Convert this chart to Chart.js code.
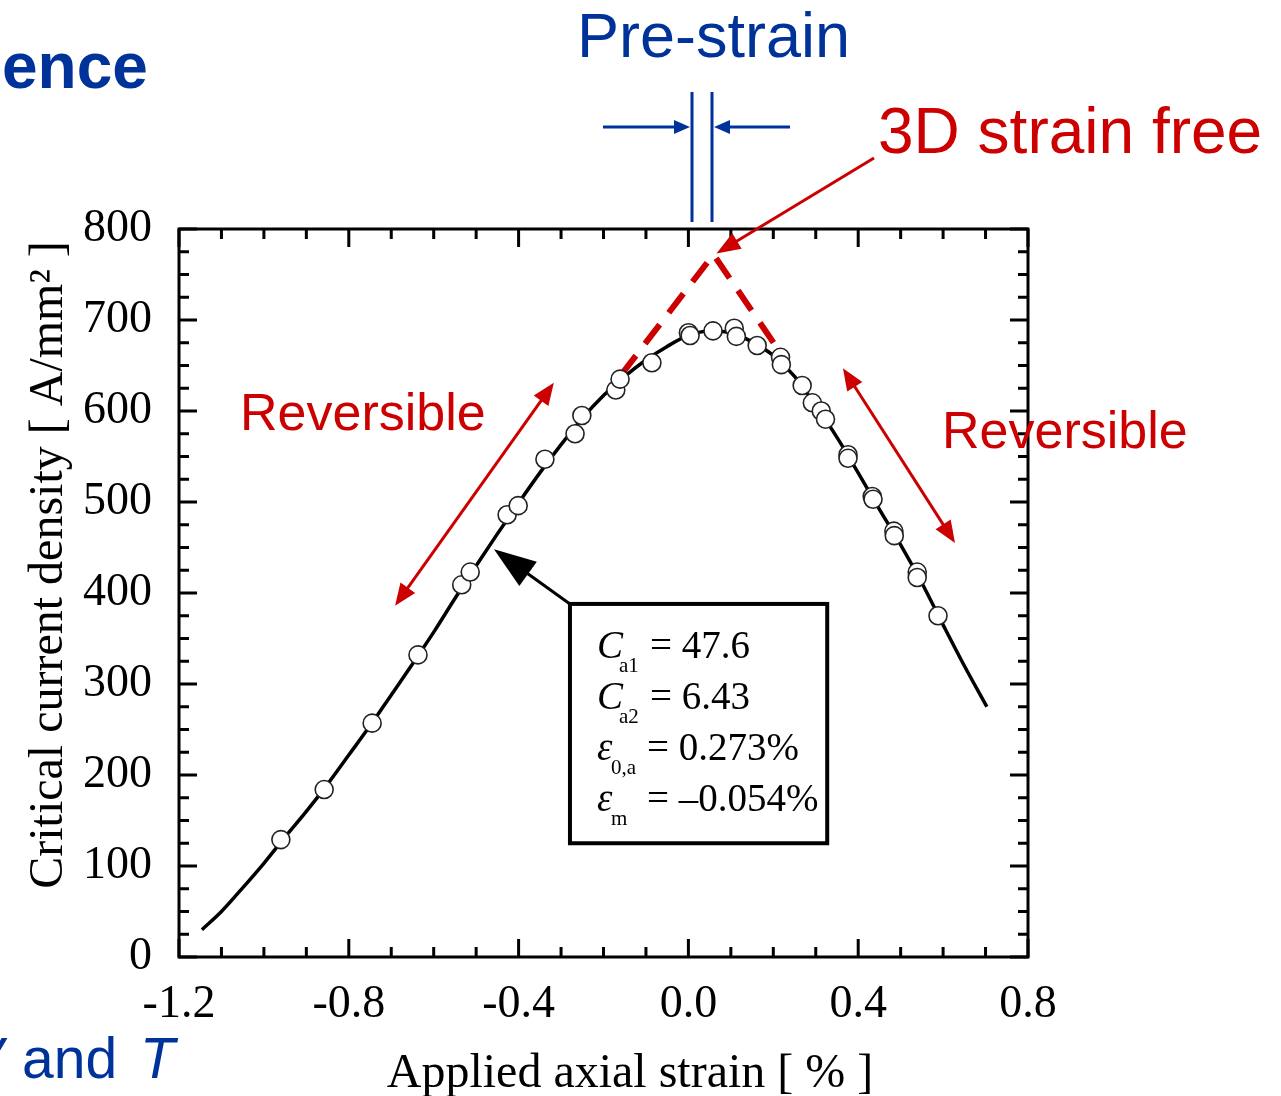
<!DOCTYPE html>
<html>
<head>
<meta charset="utf-8">
<script src="https://cdn.jsdelivr.net/npm/chart.js@4.4.1/dist/chart.umd.min.js"></script>
<style>
  html, body { margin: 0; padding: 0; background: #fff; }
  canvas { display: block; }
</style>
</head>
<body>
<canvas id="jcChart" width="1281" height="1096"></canvas>
<script>
// Measured critical current density vs applied axial strain
const strainData = [-0.960, -0.858, -0.745, -0.637, -0.534, -0.514, -0.427, -0.401, -0.338, -0.267,
  -0.251, -0.171, -0.161, -0.086, 0.000, 0.004, 0.058, 0.108, 0.113, 0.162,
  0.217, 0.219, 0.268, 0.292, 0.313, 0.323, 0.376, 0.376, 0.433, 0.435,
  0.484, 0.485, 0.539, 0.539, 0.588];
const jcData = [129, 184, 257, 332, 409, 423, 486, 496, 547, 575,
  595, 623, 635, 653, 686, 683, 688, 691, 682, 672,
  659, 651, 628, 609, 600, 591, 552, 548, 506, 503,
  468, 463, 423, 417, 375];

// Fitted scaling curve
const fitStrain = [-1.146, -1.10, -1.05, -1.00, -0.95, -0.90, -0.85, -0.80, -0.75, -0.70,
  -0.65, -0.60, -0.55, -0.50, -0.45, -0.40, -0.35, -0.30, -0.25, -0.20,
  -0.15, -0.10, -0.05, 0.00, 0.05, 0.10, 0.15, 0.20, 0.25, 0.30,
  0.35, 0.40, 0.45, 0.50, 0.55, 0.60, 0.65, 0.703];
const fitJc = [30, 50, 76, 103, 132, 160, 190, 222, 254, 288,
  322, 357, 394, 430, 465, 499, 532, 563, 592, 617,
  638, 656, 671, 683, 688, 686, 676, 661, 638, 606,
  571, 532, 492, 453, 411, 365, 320, 275];

// Extrapolated 3D strain free peak
const freeStrain = [-0.158, 0.059, 0.205];
const freeJc = [640, 772, 672];

const xTicks = [-1.2, -0.8, -0.4, 0.0, 0.4, 0.8];
const yTicks = [0, 100, 200, 300, 400, 500, 600, 700, 800];

const fitParams = [
  ["C", "a1", "= 47.6"],
  ["C", "a2", "= 6.43"],
  ["\u03b5", "0,a", "= 0.273%"],
  ["\u03b5", "m", "= \u20130.054%"]
];

const SERIF = '"Liberation Serif", "Times New Roman", serif';
const SANS = '"Liberation Sans", Arial, sans-serif';
const BLUE = '#003399';
const RED = '#cc0000';

function arrowHead(ctx, x0, y0, x1, y1, len, half) {
  const a = Math.atan2(y1 - y0, x1 - x0);
  ctx.beginPath();
  ctx.moveTo(x1, y1);
  ctx.lineTo(x1 - len * Math.cos(a) + half * Math.sin(a), y1 - len * Math.sin(a) - half * Math.cos(a));
  ctx.lineTo(x1 - len * Math.cos(a) - half * Math.sin(a), y1 - len * Math.sin(a) + half * Math.cos(a));
  ctx.closePath();
  ctx.fill();
}

function arrow(ctx, x0, y0, x1, y1, opts) {
  const a = Math.atan2(y1 - y0, x1 - x0);
  const sx = opts.both ? x0 + opts.len * 0.8 * Math.cos(a) : x0;
  const sy = opts.both ? y0 + opts.len * 0.8 * Math.sin(a) : y0;
  ctx.strokeStyle = opts.color;
  ctx.fillStyle = opts.color;
  ctx.lineWidth = opts.width;
  ctx.beginPath();
  ctx.moveTo(sx, sy);
  ctx.lineTo(x1 - opts.len * 0.8 * Math.cos(a), y1 - opts.len * 0.8 * Math.sin(a));
  ctx.stroke();
  arrowHead(ctx, x0, y0, x1, y1, opts.len, opts.half);
  if (opts.both) arrowHead(ctx, x1, y1, x0, y0, opts.len, opts.half);
}

// Closed frame with inward ticks on all four sides
const framePlugin = {
  id: 'frame',
  afterDatasetsDraw(chart) {
    const { ctx, chartArea: a, scales: { x, y } } = chart;
    ctx.save();
    ctx.strokeStyle = '#000';
    ctx.lineWidth = 3;
    ctx.strokeRect(a.left, a.top, a.right - a.left, a.bottom - a.top);
    ctx.lineWidth = 3;
    ctx.beginPath();
    for (let i = 0; i <= 20; i++) {
      const v = -1.2 + i * 0.1;
      const px = x.getPixelForValue(v);
      const len = i % 4 === 0 ? 18 : 10;
      ctx.moveTo(px, a.bottom); ctx.lineTo(px, a.bottom - len);
      ctx.moveTo(px, a.top); ctx.lineTo(px, a.top + len);
    }
    for (let i = 0; i <= 32; i++) {
      const py = y.getPixelForValue(i * 25);
      const len = i % 4 === 0 ? 18 : 10;
      ctx.moveTo(a.left, py); ctx.lineTo(a.left + len, py);
      ctx.moveTo(a.right, py); ctx.lineTo(a.right - len, py);
    }
    ctx.stroke();
    ctx.restore();
  }
};

const notesPlugin = {
  id: 'notes',
  afterDraw(chart) {
    const { ctx, scales: { x, y } } = chart;
    const P = (u, v) => [x.getPixelForValue(u), y.getPixelForValue(v)];
    ctx.save();
    ctx.textBaseline = 'alphabetic';
    ctx.textAlign = 'left';

    // axis titles
    ctx.fillStyle = '#000';
    ctx.font = '48px ' + SERIF;
    ctx.textAlign = 'center';
    ctx.fillText('Applied axial strain [ % ]', 630, 1087);
    ctx.save();
    ctx.translate(62, 565);
    ctx.rotate(-Math.PI / 2);
    ctx.fillText('Critical current density [ A/mm\u00b2 ]', 0, 0);
    ctx.restore();
    ctx.textAlign = 'left';

    // blue header text
    ctx.fillStyle = BLUE;
    ctx.font = 'bold 64px ' + SANS;
    ctx.fillText('ence', 2, 88);
    ctx.font = '63px ' + SANS;
    ctx.fillText('Pre-strain', 577, 57);
    ctx.font = 'italic 57px ' + SANS;
    ctx.fillText('V', -35, 1078);
    ctx.fillText('T', 140, 1078);
    ctx.font = '57px ' + SANS;
    ctx.fillText('and', 22, 1078);

    // pre-strain markers
    ctx.strokeStyle = BLUE;
    ctx.lineWidth = 3;
    ctx.beginPath();
    ctx.moveTo(692, 92); ctx.lineTo(692, 222);
    ctx.moveTo(712, 92); ctx.lineTo(712, 222);
    ctx.stroke();
    arrow(ctx, 603, 127, 690, 127, { color: BLUE, width: 3, len: 16, half: 7 });
    arrow(ctx, 790, 127, 714, 127, { color: BLUE, width: 3, len: 16, half: 7 });

    // red labels and arrows
    ctx.fillStyle = RED;
    ctx.font = '64px ' + SANS;
    ctx.fillText('3D strain free', 878, 153);
    ctx.font = '52px ' + SANS;
    ctx.fillText('Reversible', 240, 430);
    ctx.fillText('Reversible', 942, 448);
    const tip = P(freeStrain[1], freeJc[1]);
    arrow(ctx, 874, 158, tip[0] + 3, tip[1] - 1, { color: RED, width: 3, len: 24, half: 9 });
    const l0 = P(-0.691, 386), l1 = P(-0.317, 631);
    arrow(ctx, l0[0], l0[1], l1[0], l1[1], { color: RED, width: 3, len: 22, half: 9, both: true });
    const r0 = P(0.364, 647), r1 = P(0.628, 455);
    arrow(ctx, r0[0], r0[1], r1[0], r1[1], { color: RED, width: 3, len: 22, half: 9, both: true });

    // parameter box with pointer to the fit
    const b0 = P(-0.279, 388), b1 = P(0.327, 125);
    const at = P(-0.458, 448);
    arrow(ctx, b0[0], b0[1], at[0], at[1], { color: '#000', width: 3, len: 42, half: 15 });
    ctx.fillStyle = '#fff';
    ctx.fillRect(b0[0], b0[1], b1[0] - b0[0], b1[1] - b0[1]);
    ctx.strokeStyle = '#000';
    ctx.lineWidth = 4;
    ctx.strokeRect(b0[0], b0[1], b1[0] - b0[0], b1[1] - b0[1]);
    ctx.fillStyle = '#000';
    fitParams.forEach((p, i) => {
      const base = b0[1] + 54 + i * 51;
      const isEps = p[0] !== 'C';
      ctx.font = 'italic 39px ' + SERIF;
      ctx.fillText(p[0], b0[0] + 27, base);
      ctx.font = '21px ' + SERIF;
      ctx.fillText(p[1], b0[0] + (isEps ? 41 : 49), base + 14);
      ctx.font = '39px ' + SERIF;
      ctx.fillText(p[2], b0[0] + (isEps ? 77 : 80), base);
    });
    ctx.restore();
  }
};

const tickFont = { family: SERIF, size: 46 };

new Chart(document.getElementById('jcChart'), {
  type: 'scatter',
  data: {
    datasets: [
      {
        label: 'Measured',
        data: strainData.map((s, i) => ({ x: s, y: jcData[i] })),
        pointRadius: 9,
        pointBackgroundColor: '#fff',
        pointBorderColor: '#222',
        pointBorderWidth: 1.6,
        order: 0
      },
      {
        type: 'line',
        label: 'Fit',
        data: fitStrain.map((s, i) => ({ x: s, y: fitJc[i] })),
        borderColor: '#000',
        borderWidth: 3.5,
        pointRadius: 0,
        cubicInterpolationMode: 'monotone',
        order: 2
      },
      {
        type: 'line',
        label: '3D strain free',
        data: freeStrain.map((s, i) => ({ x: s, y: freeJc[i] })),
        borderColor: RED,
        borderWidth: 6,
        borderDash: [24, 15],
        pointRadius: 0,
        order: 1
      }
    ]
  },
  options: {
    responsive: false,
    animation: false,
    events: [],
    layout: { padding: { top: 229, right: 253, left: 0, bottom: 0 } },
    plugins: { legend: { display: false }, tooltip: { enabled: false } },
    scales: {
      x: {
        type: 'linear',
        min: -1.2,
        max: 0.8,
        afterBuildTicks: s => { s.ticks = xTicks.map(v => ({ value: v })); },
        afterFit: s => { s.height = 139; },
        grid: { display: false },
        border: { display: false },
        ticks: {
          font: tickFont, color: '#000', padding: 12, maxRotation: 0, autoSkip: false,
          callback: v => (Math.abs(v) < 1e-9 ? 0 : v).toFixed(1)
        }
      },
      y: {
        min: 0,
        max: 800,
        afterBuildTicks: s => { s.ticks = yTicks.map(v => ({ value: v })); },
        afterFit: s => { s.width = 179; },
        grid: { display: false },
        border: { display: false },
        ticks: { font: tickFont, color: '#000', padding: 19, autoSkip: false }
      }
    }
  },
  plugins: [framePlugin, notesPlugin]
});
</script>
</body>
</html>
